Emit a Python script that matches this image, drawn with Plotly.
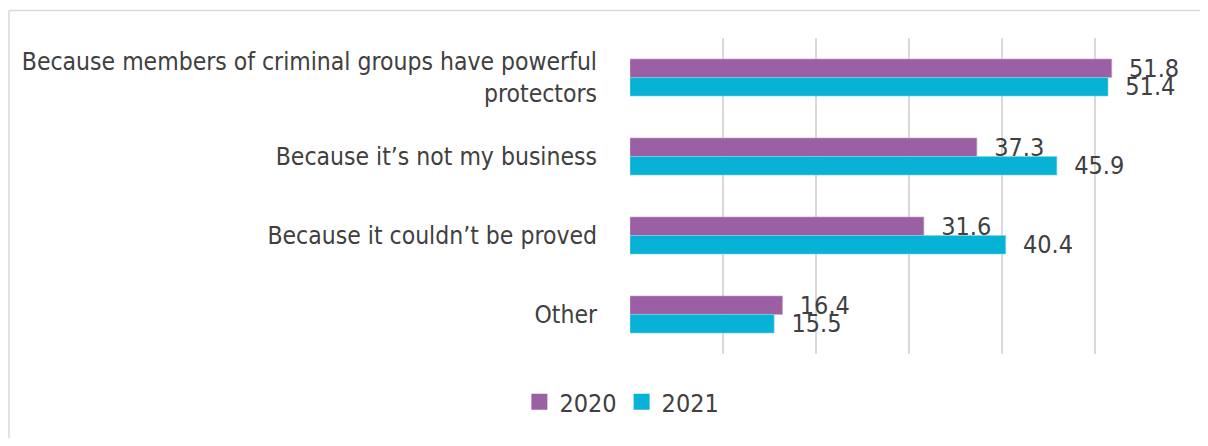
import plotly.graph_objects as go

categories = [
    "Because members of criminal groups have powerful<br>protectors",
    "Because it’s not my business",
    "Because it couldn’t be proved",
    "Other",
]
values_2020 = [51.8, 37.3, 31.6, 16.4]
values_2021 = [51.4, 45.9, 40.4, 15.5]

_PURPLE = "#9B60A3"
_CYAN = "#08B1D6"
_TEXT = "#404040"
_GRID = "#D9D9D9"
_FONT = "Liberation Sans Narrow, DejaVu Sans Condensed, Roboto, sans-serif"

fig = go.Figure()
for name, vals, color, edge in [("2020", values_2020, _PURPLE, "#C9A6CE"),
                                ("2021", values_2021, _CYAN, "#7FD6EA")]:
    fig.add_trace(go.Bar(
        y=categories, x=vals, orientation="h", name=name, showlegend=False,
        marker=dict(color=color, line=dict(color=edge, width=0.6)),
        text=[f"  {v:.1f}" for v in vals], textposition="outside",
        textfont=dict(size=25, color=_TEXT), cliponaxis=False,
        constraintext="none",
    ))
    # legend entry with a larger square swatch
    fig.add_trace(go.Scatter(
        x=[None], y=[None], mode="markers", name=name,
        marker=dict(symbol="square", size=17, color=color),
    ))

# light frame around the chart area (top and left edges visible)
fig.add_shape(type="line", xref="paper", yref="paper",
              x0=-1.113, x1=1.04, y0=1.087, y1=1.087,
              line=dict(color=_GRID, width=1.5))
fig.add_shape(type="line", xref="paper", yref="paper",
              x0=-1.113, x1=-1.113, y0=1.087, y1=-0.4,
              line=dict(color=_GRID, width=1.5))

fig.update_layout(
    width=1192, height=430,
    barmode="group", bargap=0.53, bargroupgap=0,
    paper_bgcolor="white", plot_bgcolor="white",
    font=dict(family=_FONT, color=_TEXT, size=25),
    margin=dict(l=622, r=12, t=30, b=84),
    legend=dict(
        orientation="h", xref="container", x=0.515, xanchor="center",
        yref="container", y=0.03, yanchor="bottom",
        font=dict(size=25, color=_TEXT), itemwidth=30,
    ),
    showlegend=True,
)
fig.update_xaxes(range=[0, 60], dtick=10, showgrid=True, gridcolor=_GRID,
                 gridwidth=1.5, showticklabels=False, zeroline=False,
                 showline=False, automargin=False)
fig.update_yaxes(autorange="reversed", showgrid=False, showline=False,
                 ticks="", ticklabelstandoff=32, automargin=False,
                 tickfont=dict(size=24.5, color=_TEXT))

fig.write_html("out.html")
